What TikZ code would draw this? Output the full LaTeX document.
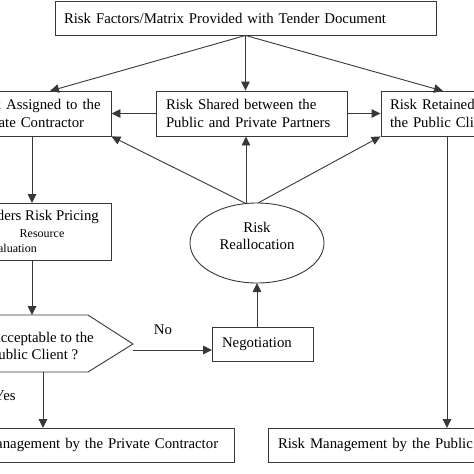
\documentclass[tikz,border=0pt]{standalone}
\usepackage{fontspec}
\setmainfont{Liberation Serif}
\usetikzlibrary{arrows.meta,shapes.geometric}
\begin{document}
\begin{tikzpicture}[x=1pt,y=-1pt,
  ln/.style={draw=black!78, line width=0.9pt},
  arr/.style={ln, -{Triangle[length=9pt,width=8.5pt]}},
  big/.style={font=\fontsize{14.8}{17.5}\selectfont},
  small/.style={font=\fontsize{12}{14}\selectfont},
  box/.style={ln, rectangle, big, align=left, inner xsep=10pt, inner ysep=0pt},
  txt/.style={inner sep=0pt, big, align=left},
  stxt/.style={inner sep=0pt, small}]
\useasboundingbox (0,0) rectangle (474,474);
\clip (0,0) rectangle (474,474);
\fill[white] (0,0) rectangle (474,474);

% boxes
\node[box, inner xsep=9pt, text width=363pt, minimum height=34pt] (top) at (245.5,18) {Risk Factors/Matrix Provided with Tender Document};
\node[box, text width=127pt, minimum height=45pt] (lb) at (37.5,113.5) {Risk Assigned to the\\Private Contractor};
\node[box, text width=171pt, minimum height=45pt] (mid) at (251.5,113.5) {Risk Shared between the\\Public and Private Partners};
\node[box, inner xsep=9pt, text width=129pt, minimum height=45pt] (rb) at (454.5,113.5) {Risk Retained by\\the Public Client};

\node[ln, rectangle, minimum width=147pt, minimum height=57pt, inner sep=0pt] (bid) at (37.5,231.5) {};
\node[txt, anchor=east] (bid1) at (99,217) {Bidders Risk Pricing};
\node[stxt] (bid2) at (42,234) {Resource};
\node[stxt, anchor=east] (bid3) at (37,248) {Evaluation};

\node[ln, ellipse, minimum width=134pt, minimum height=80pt, inner sep=0pt] (ell) at (257,243) {};
\node[txt, align=center] (elltxt) at (257,236) {Risk\\Reallocation};

\draw[ln] (-40,315) -- (88,315) -- (133,344) -- (88,372) -- (-40,372);
\node[txt, anchor=west] (acc) at (-10,346) {Acceptable to the\\Public Client ?};

\node[box, text width=81pt, minimum height=34pt] (neg) at (262.5,344) {Negotiation};

\node[box, text width=273pt, minimum height=34pt] (bl) at (87.5,445) {Risk Management by the Private Contractor};
\node[box, text width=273pt, minimum height=34pt] (br) at (414.5,445) {Risk Management by the Public Client};

\node[txt] (no) at (163,330) {No};
\node[txt, anchor=west] (yes) at (-6,396) {Yes};

% connector coordinates
\coordinate (lbTop) at (50,91);
\coordinate (rbTop) at (443,91);
\coordinate (e1) at (245,203);
\coordinate (e2) at (246,203);
\coordinate (e3) at (258,203);
\coordinate (lbBot) at (32,136);
\coordinate (bidTop) at (32,203);
\coordinate (bidBot) at (32,260);
\coordinate (accTop) at (32,315);
\coordinate (accBot) at (43,372);
\coordinate (blTop) at (43,428);
\coordinate (accTip) at (133,350);
\coordinate (negIn) at (212,350);
\coordinate (negTop) at (257,327);
\coordinate (ellBot) at (257,283);
\coordinate (rbBot) at (447,136);
\coordinate (brTop) at (447,428);

\draw[arr] (top.south) -- (lbTop);
\draw[arr] (top.south) -- (top.south |- mid.north);
\draw[arr] (top.south) -- (rbTop);
\draw[arr] (mid.west) -- (lb.east);
\draw[arr] (mid.east) -- (rb.west);
\draw[arr] (e1) -- (lb.south east);
\draw[arr] (e2) -- (e2 |- mid.south);
\draw[arr] (e3) -- (rb.south west);
\draw[arr] (lbBot) -- (bidTop);
\draw[arr] (bidBot) -- (accTop);
\draw[arr] (accBot) -- (blTop);
\draw[arr] (accTip) -- (negIn);
\draw[arr] (negTop) -- (ellBot);
\draw[arr] (rbBot) -- (brTop);
\end{tikzpicture}
\end{document}
